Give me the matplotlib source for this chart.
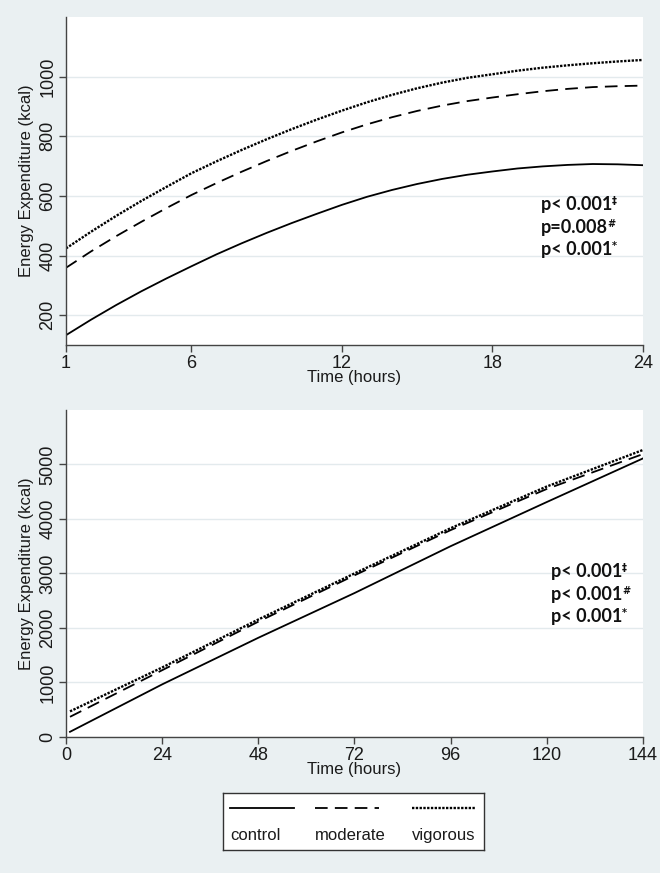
import numpy as np
import matplotlib
matplotlib.use("Agg")
import matplotlib.pyplot as plt

# top panel: first 24 hours
hours_24 = list(range(1, 25))
control_24 = [133, 185, 234, 280, 323, 364, 404, 441, 476, 509, 540, 570,
              597, 620, 640, 657, 671, 682, 692, 699, 704, 707, 706, 703]
moderate_24 = [359, 414, 465, 513, 559, 603, 643, 681, 717, 751, 783, 813,
               840, 864, 885, 903, 918, 930, 941, 951, 959, 965, 968, 970]
vigorous_24 = [424, 480, 533, 583, 630, 676, 716, 754, 790, 824, 856, 886,
               914, 939, 961, 980, 996, 1008, 1020, 1030, 1038, 1045, 1051, 1056]

# bottom panel: 144 hours
hours_144 = [1, 24, 48, 72, 96, 120, 144]
control_144 = [95, 965, 1820, 2640, 3500, 4310, 5110]
moderate_144 = [370, 1225, 2115, 2965, 3795, 4550, 5190]
vigorous_144 = [470, 1275, 2155, 3000, 3830, 4595, 5265]

groups = ["control", "moderate", "vigorous"]
pvals_top = [("p< 0.001", "\u2021"), ("p=0.008", "#"), ("p< 0.001", "*")]
pvals_bottom = [("p< 0.001", "\u2021"), ("p< 0.001", "#"), ("p< 0.001", "*")]

bg = "#eaf0f2"
styles = {
    "control": dict(linestyle="-", linewidth=1.3),
    "moderate": dict(linestyle=(0, (7, 4)), linewidth=1.3),
    "vigorous": dict(linestyle=(0, (1, 0.6)), linewidth=1.7),
}

plt.rcParams["font.family"] = ["Liberation Sans", "DejaVu Sans"]
fig = plt.figure(figsize=(6.6, 8.73), dpi=100, facecolor=bg)


def style_axes(ax, xticks, yticks, xlim, ylim):
    ax.set_facecolor("white")
    for s in ["top", "right"]:
        ax.spines[s].set_visible(False)
    for s in ["left", "bottom"]:
        ax.spines[s].set_color("#444444")
        ax.spines[s].set_linewidth(1.0)
    ax.set_xlim(*xlim)
    ax.set_ylim(*ylim)
    ax.set_xticks(xticks)
    ax.set_yticks(yticks)
    ax.tick_params(axis="both", direction="out", length=5, width=1,
                   color="#444444", labelsize=13, labelcolor="#1a1a1a", pad=2)
    for lab in ax.get_yticklabels():
        lab.set_rotation(90)
        lab.set_va("center")
    ax.yaxis.grid(True, color="#e3eaed", linewidth=1.0)
    ax.set_axisbelow(True)
    ax.set_xlabel("Time (hours)", fontsize=12, color="#1a1a1a", labelpad=-1)
    ax.set_ylabel("Energy Expenditure (kcal)", fontsize=12, color="#1a1a1a", labelpad=4)


def pvalue_text(ax, items, x, ys):
    for (txt, sup), y in zip(items, ys):
        t = ax.text(x, y, txt, transform=ax.transAxes, fontsize=13,
                    fontweight="bold", family=["Lato", "DejaVu Sans"],
                    ha="left", va="center", color="#111111")
        ax.annotate(sup, xy=(1.0, 1.0), xycoords=t, ha="left", va="top",
                    fontsize=7, fontweight="bold", color="#111111",
                    family=["DejaVu Sans"])


# top panel
ax1 = fig.add_axes([0.1, 0.6048, 0.874, 0.3757])
ax1.plot(hours_24, control_24, color="black", **styles["control"])
ax1.plot(hours_24, moderate_24, color="black", **styles["moderate"])
ax1.plot(hours_24, vigorous_24, color="black", **styles["vigorous"])
style_axes(ax1, [1, 6, 12, 18, 24], [200, 400, 600, 800, 1000], (1, 24), (100, 1200))
pvalue_text(ax1, pvals_top, 0.823, [0.427, 0.357, 0.29])

# bottom panel
ax2 = fig.add_axes([0.1, 0.1558, 0.874, 0.3746])
ax2.plot(hours_144, control_144, color="black", **styles["control"])
ax2.plot(hours_144, moderate_144, color="black", **styles["moderate"])
ax2.plot(hours_144, vigorous_144, color="black", **styles["vigorous"])
style_axes(ax2, [0, 24, 48, 72, 96, 120, 144], [0, 1000, 2000, 3000, 4000, 5000],
           (0, 144), (0, 6000))
pvalue_text(ax2, pvals_bottom, 0.84, [0.506, 0.437, 0.368])

# legend box: sample line above each label
lax = fig.add_axes([0.338, 0.026, 0.395, 0.066])
lax.set_xlim(0, 1)
lax.set_ylim(0, 1)
lax.set_xticks([])
lax.set_yticks([])
lax.set_facecolor("white")
for s in lax.spines.values():
    s.set_color("#333333")
    s.set_linewidth(1.0)
starts = [0.027, 0.352, 0.724]
for g, x0 in zip(groups, starts):
    lax.plot([x0, x0 + 0.245], [0.74, 0.74], color="black", **styles[g])
    lax.text(x0, 0.26, g, fontsize=12, color="#1a1a1a", ha="left", va="center")

fig.savefig("out.png", dpi=100, facecolor=bg)
